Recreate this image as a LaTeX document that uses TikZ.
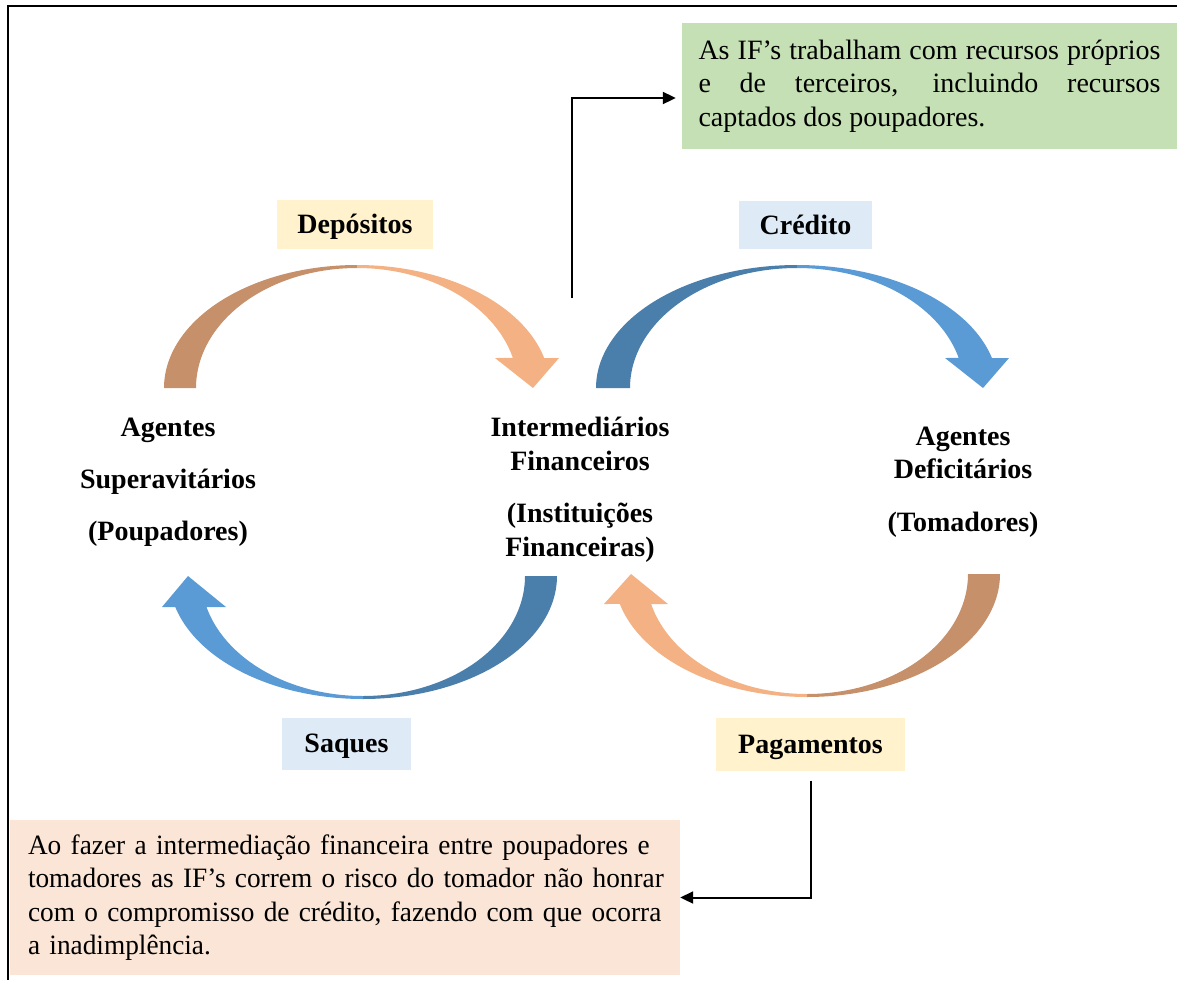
\documentclass[tikz,border=0pt]{standalone}
\usepackage{fontspec}
\setmainfont{Liberation Serif}
\usetikzlibrary{arrows.meta}

\definecolor{tanD}{HTML}{C5906A}
\definecolor{orangeL}{HTML}{F4B183}
\definecolor{blueD}{HTML}{4A7EAB}
\definecolor{blueL}{HTML}{5B9BD5}
\definecolor{noteGreen}{HTML}{C5E0B4}
\definecolor{noteOrange}{HTML}{FBE5D6}
\definecolor{tagYellow}{HTML}{FFF2CC}
\definecolor{tagBlue}{HTML}{DEEBF7}

% one unbreakable line of a ragged-right note
\newcommand\noteline[1]{\makebox[0pt][l]{#1}}

\begin{document}
\begin{tikzpicture}[x=1pt,y=-1pt,
  every node/.style={font=\fontsize{28}{33.5}\selectfont, inner sep=0pt},
  tag/.style={font=\fontsize{28}{33.5}\selectfont\bfseries,
    text height=20pt, text depth=2pt},
  agent/.style={font=\fontsize{28}{33.5}\selectfont\bfseries, align=center},
  conn/.style={line width=2pt, -{Triangle[length=13pt,width=12pt]}}
]
\useasboundingbox (0,0) rectangle (1177,980);

% ---- curved flow arrows ----
% Depositos (saver -> intermediary)
\fill[tanD] plot[domain=180:90,samples=60] ({357+193*cos(\x)},{388-123*sin(\x)})
  -- plot[domain=90:180,samples=60] ({357+161*cos(\x)},{388-120*sin(\x)}) -- cycle;
\fill[orangeL] plot[domain=90:14.1,samples=60] ({357+193*cos(\x)},{388-123*sin(\x)})
  -- (559,358) -- (533,388) -- (495,358)
  -- plot[domain=14.5:90,samples=60] ({357+161*cos(\x)},{388-120*sin(\x)}) -- cycle;

% Credito (intermediary -> borrower)
\fill[blueD] plot[domain=180:90,samples=60] ({797+201*cos(\x)},{388-123*sin(\x)})
  -- plot[domain=90:180,samples=60] ({797+167*cos(\x)},{388-120*sin(\x)}) -- cycle;
\fill[blueL] plot[domain=90:14.1,samples=60] ({797+201*cos(\x)},{388-123*sin(\x)})
  -- (1009,358) -- (983,388) -- (945,358)
  -- plot[domain=14.5:90,samples=60] ({797+167*cos(\x)},{388-120*sin(\x)}) -- cycle;

% Saques (intermediary -> saver)
\fill[blueD] plot[domain=0:90,samples=60] ({363+194*cos(\x)},{576+123*sin(\x)})
  -- plot[domain=90:0,samples=60] ({363+162*cos(\x)},{576+120*sin(\x)}) -- cycle;
\fill[blueL] plot[domain=90:165.4,samples=60] ({363+194*cos(\x)},{576+123*sin(\x)})
  -- (162,607) -- (188,576) -- (226,607)
  -- plot[domain=165.0:90,samples=60] ({363+162*cos(\x)},{576+120*sin(\x)}) -- cycle;

% Pagamentos (borrower -> intermediary)
\fill[tanD] plot[domain=0:90,samples=60] ({807+193*cos(\x)},{574+123*sin(\x)})
  -- plot[domain=90:0,samples=60] ({807+161*cos(\x)},{574+120*sin(\x)}) -- cycle;
\fill[orangeL] plot[domain=90:165.9,samples=60] ({807+193*cos(\x)},{574+123*sin(\x)})
  -- (604,604) -- (631,574) -- (668,604)
  -- plot[domain=165.5:90,samples=60] ({807+161*cos(\x)},{574+120*sin(\x)}) -- cycle;

% ---- flow labels ----
\node[tag, fill=tagYellow, minimum width=156pt, minimum height=49pt] (dep) at (355,224) {Depósitos};
\node[tag, fill=tagBlue, minimum width=133pt, minimum height=48pt] (cred) at (805.5,225) {Crédito};
\node[tag, fill=tagBlue, minimum width=129pt, minimum height=52pt] (saq) at (346.5,743.5) {Saques};
\node[tag, fill=tagYellow, minimum width=189pt, minimum height=53pt] (pag) at (810.5,744) {Pagamentos};

% ---- agents ----
\node[agent] (sav) at (168,482) {Agentes\\[18.5pt]Superavitários\\[18.5pt](Poupadores)};
\node[agent] (mid) at (580,489.5) {Intermediários\\Financeiros\\[19pt](Instituições\\Financeiras)};
\node[agent] (bor) at (963,482) {Agentes\\Deficitários\\[19pt](Tomadores)};

% ---- notes ----
\node[fill=noteGreen, minimum width=495pt, minimum height=126pt, text width=462pt, align=justify]
  (ifnote) at (929.5,86)
  {As IF’s trabalham com recursos próprios\linebreak e de terceiros, incluindo recursos\linebreak captados dos poupadores.};
\node[fill=noteOrange, minimum width=670pt, minimum height=155pt, text width=634pt, align=left,
      font=\fontsize{28}{33.5}\selectfont\addfontfeature{FakeStretch=0.975}]
  (risknote) at (345,897.5)
  {\noteline{Ao fazer a intermediação financeira entre poupadores e}\\
   \noteline{tomadores as IF’s correm o risco do tomador não honrar}\\
   \noteline{com o compromisso de crédito, fazendo com que ocorra}\\
   \noteline{a inadimplência.}};

% ---- connectors ----
\coordinate (ifsrc) at (572,298);
\draw[conn] (ifsrc) |- ([xshift=-6pt,yshift=-12pt]ifnote.west);
\draw[conn] ([yshift=-10pt]pag.south) |- (risknote.east);

% ---- frame ----
\draw[line width=2pt] (8,980) -- (8,6) -- (1177,6);
\end{tikzpicture}
\end{document}
